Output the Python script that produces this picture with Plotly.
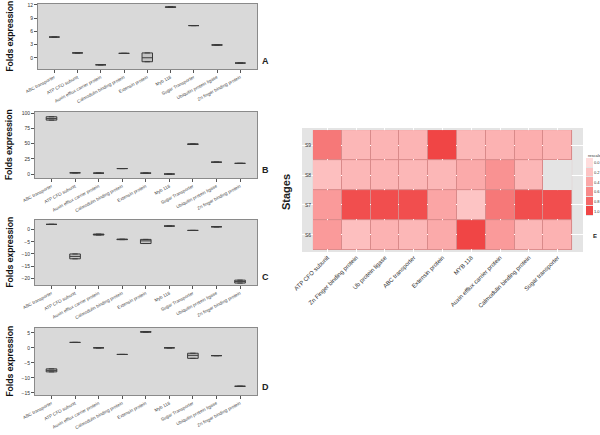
import plotly.graph_objects as go

W, H = 600, 435

box_cats = ["ABC transporter", "ATP CFO subunit", "Auxin efflux carrier protein",
            "Calmodulin binding protein", "Extensin protein", "Myb 118",
            "Sugar Transporter", "Ubiquitin protein ligase", "Zn finger binding protein"]

# Panel A
a_q1 = [4.7, 1.1, -1.6, 1.0, -0.9, 11.45, 7.3, 2.85, -1.2]
a_med = [4.7, 1.1, -1.6, 1.0, 0.0, 11.5, 7.3, 2.9, -1.2]
a_q3 = [4.7, 1.1, -1.6, 1.0, 1.1, 11.55, 7.3, 2.95, -1.2]
# Panel B
b_q1 = [88.5, 2.0, 1.5, 9.0, 1.5, 0.0, 48.5, 19.5, 17.5]
b_med = [91.0, 2.0, 1.5, 9.0, 1.5, 0.0, 49.0, 19.5, 17.5]
b_q3 = [94.0, 2.0, 1.5, 9.0, 1.5, 0.0, 49.5, 19.5, 17.5]
# Panel C
c_q1 = [2.2, -12.0, -2.2, -4.1, -5.7, 1.5, -0.3, 1.2, -22.0]
c_med = [2.2, -11.0, -2.0, -4.0, -4.6, 1.5, -0.3, 1.2, -21.4]
c_q3 = [2.2, -10.0, -1.8, -3.9, -4.0, 1.5, -0.3, 1.2, -20.8]
# Panel D
d_q1 = [-8.0, 1.8, 0.0, -2.2, 5.2, 0.0, -3.5, -2.6, -12.8]
d_med = [-7.5, 1.8, 0.0, -2.2, 5.3, 0.0, -2.5, -2.6, -12.8]
d_q3 = [-7.0, 1.8, 0.0, -2.2, 5.4, 0.0, -1.8, -2.6, -12.8]

a_ticks = [0, 3, 6, 9, 12]
b_ticks = [0, 25, 50, 75, 100]
c_ticks = [0, -5, -10, -15, -20]
d_ticks = [5, 0, -5, -10, -15]

# Heatmap (rescale)
heat_genes = ["ATP CFO subunit", "Zn Finger binding protein", "Ub protein ligase",
              "ABC transporter", "Extensin protein", "MYB 118",
              "Auxin efflux carrier protein", "Calmodulin binding protein", "Sugar transporter"]
stages = ["S6", "S7", "S8", "S9"]
s6 = [0.5, 0.22, 0.32, 0.28, 0.38, 1.0, 0.5, 0.28, 0.32]
s7 = [0.5, 0.95, 0.95, 0.95, 0.42, 0.18, 0.7, 0.95, 0.95]
s8 = [0.22, 0.28, 0.3, 0.28, 0.28, 0.38, 0.55, 0.28, None]
s9 = [0.7, 0.28, 0.3, 0.3, 1.0, 0.28, 0.32, 0.35, 0.3]
legend_ticks = [0.0, 0.2, 0.4, 0.6, 0.8, 1.0]

colorscale = [[0, "#ffdcdc"], [0.5, "#fa9a9a"], [1, "#f04545"]]


def px_x(p):
    return p / W


def px_y(p):
    return 1 - p / H


panels = [
    ("A", a_q1, a_med, a_q3, a_ticks, [-2.55, 12.2], (4, 69), 38),
    ("B", b_q1, b_med, b_q3, b_ticks, [-6.5, 101.8], (112, 178), 35),
    ("C", c_q1, c_med, c_q3, c_ticks, [-22.8, 4.0], (220, 285), 35),
    ("D", d_q1, d_med, d_q3, d_ticks, [-15.7, 6.6], (328, 395), 35),
]

fig = go.Figure()
layout = dict(
    width=W, height=H, margin=dict(l=0, r=0, t=0, b=0, autoexpand=False),
    paper_bgcolor="white", plot_bgcolor="#e4e4e4",
    showlegend=False, font=dict(family="Liberation Sans", color="#333"),
)
shapes = []
annotations = []

for i, (lab, q1, med, q3, ticks, yr, (ytop, ybot), xl) in enumerate(panels, start=1):
    xa = "x" if i == 1 else f"x{i}"
    ya = "y" if i == 1 else f"y{i}"
    fig.add_trace(go.Box(
        x=box_cats, q1=q1, median=med, q3=q3, lowerfence=q1, upperfence=q3,
        xaxis=xa, yaxis=ya, width=0.45, fillcolor="#c4c4c4",
        line=dict(color="#3a3a3a", width=1), hoverinfo="skip", boxpoints=False,
    ))
    layout[f"xaxis{'' if i == 1 else i}"] = dict(
        domain=[px_x(xl), px_x(257)], anchor=ya, type="category",
        range=[-0.7, 8.72], showline=True, mirror=True, linecolor="#8a8a8a",
        linewidth=1, ticks="outside", ticklen=3, tickcolor="#555",
        tickangle=-28, tickfont=dict(size=4.5, color="#444"), showgrid=False,
        zeroline=False, ticklabeloverflow="allow", automargin=False,
    )
    layout[f"yaxis{'' if i == 1 else i}"] = dict(
        domain=[px_y(ybot), px_y(ytop)], anchor=xa, range=yr,
        tickvals=ticks, showline=True, mirror=True, linecolor="#8a8a8a",
        linewidth=1, ticks="outside", ticklen=3, tickcolor="#555",
        tickfont=dict(size=5, color="#333"), showgrid=False, zeroline=False,
        automargin=False,
    )
    shapes.append(dict(type="rect", xref=f"{xa} domain", yref=f"{ya} domain",
                       x0=0, x1=1, y0=0, y1=1, fillcolor="#d9d9d9",
                       line=dict(width=0), layer="below"))
    annotations.append(dict(text="Folds expression", x=px_x(9),
                            y=px_y((ytop + ybot) / 2), xref="paper", yref="paper",
                            textangle=-90, showarrow=False,
                            font=dict(size=9.3, color="#111", family="Roboto",
                                      weight=600),
                            xanchor="center", yanchor="middle"))
    annotations.append(dict(text=f"<b>{lab}</b>", x=px_x(265),
                            y=px_y(ybot - 8), xref="paper", yref="paper",
                            showarrow=False, font=dict(size=9, color="#222"),
                            xanchor="center", yanchor="middle"))

# Heatmap
z = [s6, s7, s8, s9]
fig.add_trace(go.Heatmap(
    x=heat_genes, y=stages, z=z, xaxis="x5", yaxis="y5", zmin=0, zmax=1,
    colorscale=colorscale, xgap=1, ygap=1, hoverinfo="skip", showscale=False,
))
shapes.append(dict(type="rect", xref="x5", yref="y5",
                   x0=-0.5, x1=len(heat_genes) - 0.5, y0=-0.5, y1=len(stages) - 0.5,
                   fillcolor="#d98a8a", line=dict(width=0), layer="below"))
# NaN cell shown as panel grey
nan_z = [[(1 if v is None else None) for v in row] for row in z]
fig.add_trace(go.Heatmap(
    x=heat_genes, y=stages, z=nan_z, xaxis="x5", yaxis="y5",
    colorscale=[[0, "#e4e4e4"], [1, "#e4e4e4"]], showscale=False,
    hoverinfo="skip", xgap=0, ygap=0,
))

layout["xaxis5"] = dict(
    domain=[px_x(302), px_x(583)], anchor="y5", type="category",
    range=[-0.88, 8.88], showgrid=True, gridcolor="white", gridwidth=1,
    zeroline=False, showline=False, ticks="", tickangle=-45,
    tickfont=dict(size=6, color="#333", family="Liberation Sans"),
    automargin=False, ticklabeloverflow="allow",
)
layout["yaxis5"] = dict(
    domain=[px_y(252), px_y(128)], anchor="x5", type="category",
    range=[-0.57, 3.57], showgrid=True, gridcolor="white", gridwidth=1,
    zeroline=False, showline=False, ticks="",
    tickfont=dict(size=5, color="#333"), ticklabelposition="inside",
    automargin=False,
)

# Legend ("rescale") as a small stacked key
leg_labels = [f"{v:.1f}" for v in legend_ticks]
fig.add_trace(go.Heatmap(
    x=["k"], y=leg_labels, z=[[v] for v in legend_ticks], xaxis="x6", yaxis="y6",
    zmin=0, zmax=1, colorscale=colorscale, showscale=False, hoverinfo="skip",
    ygap=1,
))
layout["xaxis6"] = dict(domain=[px_x(586), px_x(593)], anchor="y6",
                        visible=False, automargin=False)
layout["yaxis6"] = dict(domain=[px_y(216), px_y(158)], anchor="x6",
                        type="category", autorange="reversed", side="right",
                        showgrid=False, zeroline=False, showline=False, ticks="",
                        tickfont=dict(size=4, color="#333"), automargin=False,
                        ticklabeloverflow="allow")
annotations.append(dict(text="rescale", x=px_x(586), y=px_y(155),
                        xref="paper", yref="paper", showarrow=False,
                        font=dict(size=4, color="#333"),
                        xanchor="left", yanchor="middle"))

annotations.append(dict(text="<b>Stages</b>", x=px_x(286), y=px_y(192),
                        xref="paper", yref="paper", textangle=-90, showarrow=False,
                        font=dict(size=11, color="#222"),
                        xanchor="center", yanchor="middle"))
annotations.append(dict(text="<b>E</b>", x=px_x(595), y=px_y(236),
                        xref="paper", yref="paper", showarrow=False,
                        font=dict(size=6, color="#222"),
                        xanchor="center", yanchor="middle"))

layout["shapes"] = shapes
layout["annotations"] = annotations
fig.update_layout(**layout)
fig.write_html(
    "out.html",
    config={"displayModeBar": False},
    post_script="document.body.style.margin='0px';document.body.style.overflow='hidden';",
)
